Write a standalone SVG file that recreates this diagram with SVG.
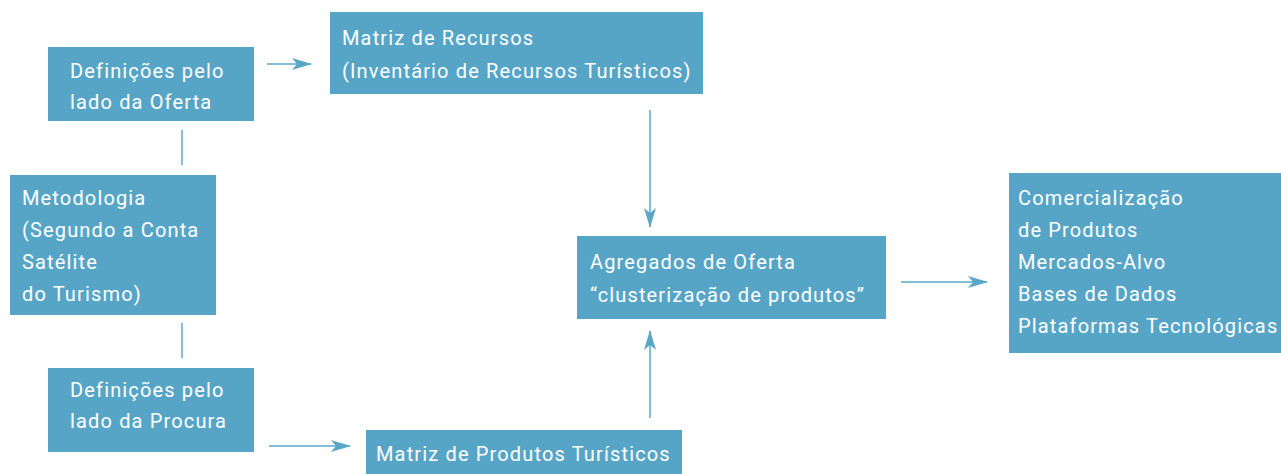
<svg xmlns="http://www.w3.org/2000/svg" width="1281" height="474" viewBox="0 0 1281 474">
<defs>
<style>
.box{fill:#57a5c6;}
.t{font-family:Roboto,"Noto Sans",sans-serif;font-size:20px;fill:#ffffff;letter-spacing:1.15px;}
.c{stroke:#5aa7c8;stroke-width:1.5;fill:none;}
</style>
<marker id="ah" viewBox="0 0 20 12" refX="19" refY="6" markerWidth="20" markerHeight="12" markerUnits="userSpaceOnUse" orient="auto">
<path d="M0,0 L20,6 L0,12 L5,6 Z" fill="#5aa7c8"/>
</marker>
</defs>
<rect width="1281" height="474" fill="#ffffff"/>
<g id="connectors">
<line class="c" x1="267" y1="64" x2="311" y2="64" marker-end="url(#ah)"/>
<line class="c" x1="182" y1="130" x2="182" y2="165"/>
<line class="c" x1="182" y1="323" x2="182" y2="358"/>
<line class="c" x1="269" y1="446" x2="350" y2="446" marker-end="url(#ah)"/>
<line class="c" x1="650" y1="110" x2="650" y2="227" marker-end="url(#ah)"/>
<line class="c" x1="650" y1="418" x2="650" y2="331" marker-end="url(#ah)"/>
<line class="c" x1="901" y1="282" x2="987" y2="282" marker-end="url(#ah)"/>
</g>
<g id="oferta">
<rect class="box" x="48" y="47" width="206" height="74"/>
<text class="t" x="70" y="78">Definições pelo</text>
<text class="t" x="70" y="109">lado da Oferta</text>
</g>
<g id="recursos">
<rect class="box" x="330" y="12" width="373" height="82"/>
<text class="t" x="342" y="45">Matriz de Recursos</text>
<text class="t" x="342" y="78">(Inventário de Recursos Turísticos)</text>
</g>
<g id="metodologia">
<rect class="box" x="10" y="175" width="206" height="140"/>
<text class="t" x="22" y="205">Metodologia</text>
<text class="t" x="22" y="237">(Segundo a Conta</text>
<text class="t" x="22" y="269">Satélite</text>
<text class="t" x="22" y="301">do Turismo)</text>
</g>
<g id="procura">
<rect class="box" x="48" y="368" width="206" height="84"/>
<text class="t" x="70" y="397">Definições pelo</text>
<text class="t" x="70" y="428">lado da Procura</text>
</g>
<g id="produtos">
<rect class="box" x="366" y="430" width="316" height="44"/>
<text class="t" x="376" y="461">Matriz de Produtos Turísticos</text>
</g>
<g id="agregados">
<rect class="box" x="577" y="236" width="309" height="83"/>
<text class="t" x="590" y="269">Agregados de Oferta</text>
<text class="t" x="590" y="302">“clusterização de produtos”</text>
</g>
<g id="comercializacao">
<rect class="box" x="1009" y="173" width="272" height="180"/>
<text class="t" x="1018" y="205">Comercialização</text>
<text class="t" x="1018" y="237">de Produtos</text>
<text class="t" x="1018" y="269">Mercados-Alvo</text>
<text class="t" x="1018" y="301">Bases de Dados</text>
<text class="t" x="1018" y="333">Plataformas Tecnológicas</text>
</g>
</svg>
